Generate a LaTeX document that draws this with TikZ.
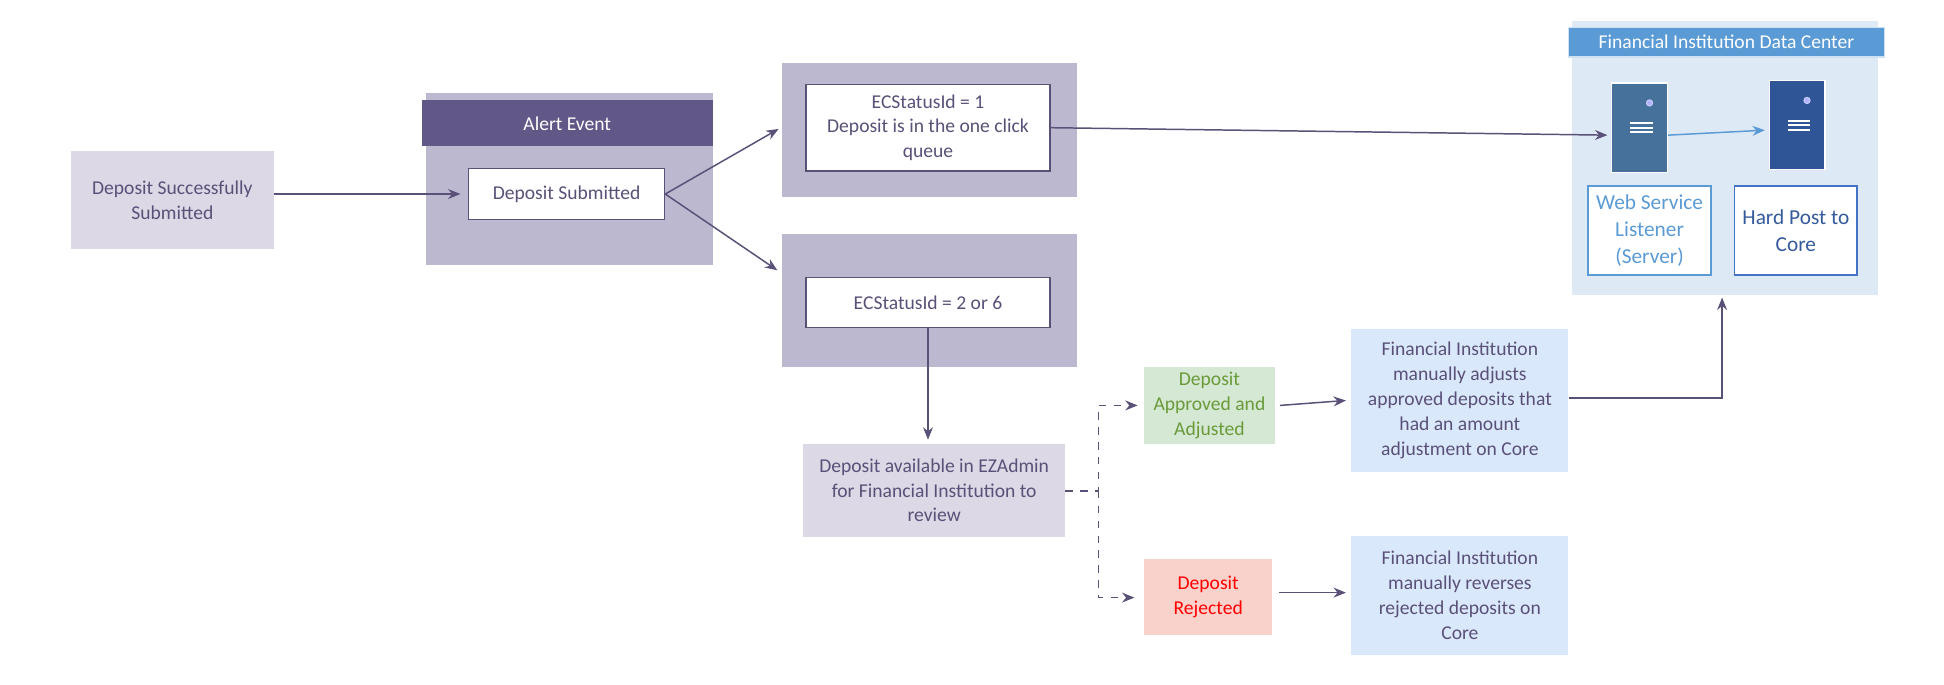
\documentclass[tikz,border=0pt]{standalone}
\usepackage{fontspec}
\setmainfont{Carlito}
\usetikzlibrary{arrows.meta}
\definecolor{txt}{HTML}{5A5078}
\definecolor{lav}{HTML}{DCD8E6}
\definecolor{lavd}{HTML}{BCB8D0}
\definecolor{hdr}{HTML}{625887}
\definecolor{grnf}{HTML}{D5E8D4}
\definecolor{grnt}{HTML}{6A9A3A}
\definecolor{redf}{HTML}{FAD2CC}
\definecolor{bluef}{HTML}{DAE8FC}
\definecolor{dcf}{HTML}{DDE9F5}
\definecolor{dch}{HTML}{5B9BD5}
\definecolor{sv1}{HTML}{45719B}
\definecolor{sv2}{HTML}{2F5597}
\definecolor{hp}{HTML}{4472C4}
\begin{document}
\begin{tikzpicture}[x=0.5pt,y=-0.5pt,
  font=\fontsize{7.9}{10}\selectfont, text=txt,
  box/.style={draw=none,align=center,inner sep=0pt},
  arr/.style={-{Stealth[length=5pt,width=4pt]},draw=txt,line width=0.6pt},
  darr/.style={arr,dashed}]
\useasboundingbox (0,0) rectangle (1568,552);
\newcommand{\bx}[5]{\node[box,#5,minimum width={(#3-#1)*0.5pt},minimum height={(#4-#2)*0.5pt}] at ({(#1+#3)/2},{(#2+#4)/2})}
% left
\bx{57}{122}{221}{201}{fill=lav} (ds) {Deposit Successfully\\Submitted};
% alert event
\bx{344}{75}{575}{214}{fill=lavd} (ae) {};
\bx{340}{81}{575}{118}{fill=hdr,text=white} (aeh) {Alert Event};
\bx{378}{136}{536}{177}{fill=white,draw=txt,line width=0.6pt} (sub) {Deposit Submitted};
% status 1
\bx{631}{51}{869}{159}{fill=lavd} (s1o) {};
\bx{650}{68}{847}{138}{fill=white,draw=txt,line width=0.6pt} (s1) {ECStatusId = 1\\Deposit is in the one click\\queue};
% status 2
\bx{631}{189}{869}{296}{fill=lavd} (s2o) {};
\bx{650}{224}{847}{264}{fill=white,draw=txt,line width=0.6pt} (s2) {ECStatusId = 2 or 6};
\bx{648}{358}{859}{433}{fill=lav} (av) {Deposit available in EZAdmin\\for Financial Institution to\\review};
\bx{923}{296}{1028}{358}{fill=grnf,text=grnt} (ap) {Deposit\\Approved and\\Adjusted};
\bx{923}{451}{1026}{512}{fill=redf,text=red} (rj) {Deposit\\Rejected};
\bx{1090}{265}{1265}{381}{fill=bluef} (adj) {Financial Institution\\manually adjusts\\approved deposits that\\had an amount\\adjustment on Core};
\bx{1090}{432}{1265}{528}{fill=bluef} (rev) {Financial Institution\\manually reverses\\rejected deposits on\\Core};
% data center
\bx{1268}{17}{1515}{238}{fill=dcf} (dc) {};
\bx{1265}{22}{1520}{46}{fill=dch,text=white,draw=white!70!dch,line width=0.5pt} (dch) {Financial Institution Data Center};
\bx{1300}{67}{1345}{139}{fill=sv1,draw=white,line width=0.5pt} (sv1) {};
\bx{1427}{65}{1472}{137}{fill=sv2,draw=white,line width=0.5pt} (sv2) {};
\foreach \s in {sv1,sv2}{
  \draw[white!80!blue,fill=white!70!blue,line width=0.4pt] ([xshift=4pt,yshift=10pt]\s.center) circle (2.5);
  \foreach \d in {0,1.8,3.6}
    \draw[white,line width=0.8pt] ([xshift=-3.7pt,yshift=1.8pt-\d pt]\s.center) -- ([xshift=5.2pt,yshift=1.8pt-\d pt]\s.center);
}
\bx{1281}{150}{1380}{222}{fill=white,draw=dch,line width=0.6pt,text=dch,font=\fontsize{8.6}{11}\selectfont} (ws) {Web Service\\Listener\\(Server)};
\bx{1399}{150}{1498}{222}{fill=white,draw=hp,line width=0.6pt,text=hp!80!black,font=\fontsize{8.6}{11}\selectfont} (hpc) {Hard Post to\\Core};
\coordinate (dcb) at (1389,240);
\coordinate (t1) at (628,104);
\coordinate (t2) at (627,218);
\coordinate (sp) at (886,396);
\coordinate (rjin) at (915,482);
\coordinate (rjout) at (1032,478);
% arrows
\draw[arr] (ds.east |- sub.west) -- ([xshift=-3pt]sub.west);
\draw[arr] (sub.east) -- (t1);
\draw[arr] (sub.east) -- (t2);
\draw[arr] (s1.east) -- ([xshift=-1.5pt,yshift=-3pt]sv1.west);
\draw[arr,draw=dch] ([yshift=-3pt]sv1.east) -- ([xshift=-1.5pt,yshift=-2pt]sv2.west);
\draw[arr] (s2.south) -- ([yshift=1.5pt]av.north -| s2.south);
\draw[darr] (av.east |- sp) -- (sp) |- ([xshift=-2.5pt]ap.west);
\draw[darr] (sp) |- (rjin);
\draw[arr] ([xshift=2pt]ap.east) -- ([xshift=-2pt]adj.west);
\draw[arr] (rjout) -- ([xshift=-2pt]rev.west |- rjout);
\draw[arr] ([yshift=1pt]adj.east) -| (dcb);
\end{tikzpicture}
\end{document}
